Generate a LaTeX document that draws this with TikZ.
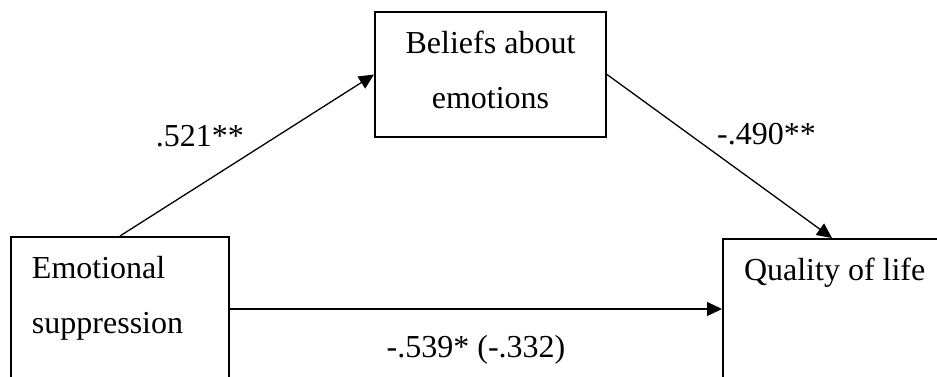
\documentclass[tikz,border=0pt]{standalone}
\usepackage{fontspec}
\setmainfont{Liberation Serif}
\usetikzlibrary{arrows.meta, positioning}
\tikzstyle{varbox} = [rectangle, draw=black, line width=1pt, inner xsep=10.5pt, inner ysep=9.5pt, font=\fontsize{16}{27.5}\selectfont]
\tikzstyle{coef} = [font=\fontsize{16}{19}\selectfont, inner sep=0pt]
\tikzstyle{arrow} = [line width=0.65pt, -{Triangle[length=7.5pt, width=7pt]}]
\newcommand{\boxtext}[3]{\parbox[t][#1][t]{#2}{#3}}

\begin{document}
\begin{tikzpicture}[x=0.5pt, y=-0.5pt]
        % picture frame cuts the lower boxes
        \useasboundingbox (0,0) rectangle (937,376);
        \clip (0,0) rectangle (937,376);
        \node[varbox] (emo) at (120,309) {\boxtext{53pt}{88pt}{Emotional\\suppression}};
        \node[varbox] (bel) at (490.5,74.5) {\boxtext{43.5pt}{94.5pt}{\centering Beliefs about\\emotions}};
        \node[varbox, right=246pt of emo] (qol) {\boxtext{51pt}{88pt}{\mbox{Quality of life}}};

        \draw[arrow] (emo.north) -- node[coef, pos=0.5, anchor=south east, xshift=-1.25pt, yshift=4pt] (a) {.521**} (bel.west);
        \draw[arrow] (bel.east) -- node[coef, pos=0.5, anchor=south west, xshift=-1.5pt, yshift=5.5pt] (b) {-.490**} (qol.north);
        \draw[arrow] (emo.east) -- node[coef, pos=0.5, anchor=base, yshift=-24pt] (c) {-.539* (-.332)} (qol.west);
    \end{tikzpicture}
\end{document}
